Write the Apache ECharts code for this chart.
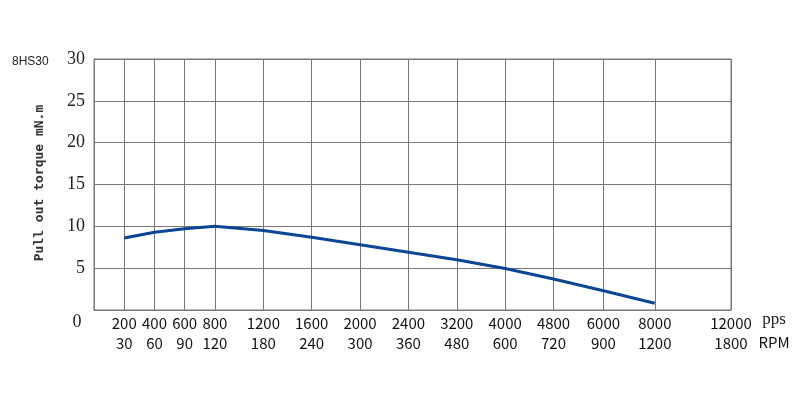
<!DOCTYPE html>
<html>
<head>
<meta charset="utf-8">
<script src="https://cdn.jsdelivr.net/npm/echarts@6/dist/echarts.min.js"></script>
<style>
html, body { margin: 0; padding: 0; background: #fff; }
#main { width: 800px; height: 400px; }
</style>
</head>
<body>
<div id="main"></div>
<script>
// tick labels (pps on top row, RPM below)
var ppsTicks = ['200', '400', '600', '800', '1200', '1600', '2000', '2400', '3200', '4000', '4800', '6000', '8000', '12000'];
var rpmTicks = ['30', '60', '90', '120', '180', '240', '300', '360', '480', '600', '720', '900', '1200', '1800'];
// where each tick sits on the (non linear) speed scale
var tickSlot = [1, 2, 3, 4, 5.6, 7.2, 8.8, 10.4, 12, 13.6, 15.2, 16.85, 18.55, 21.07];
// pull out torque, mN.m, read at ticks 200 .. 8000
var torque = [8.6, 9.3, 9.7, 10.0, 9.5, 8.7, 7.8, 6.9, 6.0, 4.95, 3.7, 2.3, 0.8];

var chart = echarts.init(document.getElementById('main'));

var pts = [];
for (var i = 0; i < torque.length; i++) {
    pts.push([tickSlot[i], torque[i]]);
}

var option = {
    animation: false,
    backgroundColor: '#fff',
    grid: {
        left: 94, right: 69, top: 59, bottom: 90,
        show: true, borderColor: '#777', borderWidth: 1
    },
    xAxis: {
        type: 'value',
        min: 0,
        max: tickSlot[tickSlot.length - 1],
        axisLine: { show: true, lineStyle: { color: '#777', width: 1 } },
        axisTick: { show: false, customValues: tickSlot },
        splitLine: { show: true, lineStyle: { color: '#777', width: 1 } },
        axisLabel: {
            customValues: tickSlot,
            margin: 3,
            hideOverlap: false,
            formatter: function (v) {
                var k = tickSlot.indexOf(v);
                if (k < 0) return '';
                return ppsTicks[k] + '\n' + rpmTicks[k];
            },
            fontFamily: 'Noto Sans CJK SC',
            fontSize: 15,
            lineHeight: 20,
            color: '#111'
        }
    },
    yAxis: {
        type: 'value',
        min: 0,
        max: 30,
        interval: 5,
        axisLine: { show: true, lineStyle: { color: '#777', width: 1 } },
        axisTick: { show: false },
        splitLine: { show: true, lineStyle: { color: '#777', width: 1 } },
        axisLabel: {
            margin: 9,
            fontFamily: 'Liberation Serif',
            fontSize: 18,
            color: '#222',
            formatter: function (v) { return v == 0 ? '' : v; }
        }
    },
    graphic: [
        { type: 'text', left: 12, top: 56, style: { text: '8HS30', font: '12px "Liberation Sans"', fill: '#222' } },
        { type: 'text', x: 77, y: 322, style: { text: '0', font: '18px "Liberation Serif"', fill: '#222', align: 'center', verticalAlign: 'middle' } },
        { type: 'text', x: 774, y: 320, style: { text: 'pps', font: '17px "Liberation Serif"', fill: '#222', align: 'center', verticalAlign: 'middle' } },
        { type: 'text', x: 774, y: 342, style: { text: 'RPM', font: '15px "Noto Sans CJK SC"', fill: '#111', align: 'center', verticalAlign: 'middle' } },
        {
            type: 'text', x: 40, y: 183, rotation: Math.PI / 2,
            style: { text: 'Pull out torque mN.m', font: 'bold 13px "DejaVu Sans Mono"', fill: '#333', align: 'center', verticalAlign: 'middle' }
        }
    ],
    series: [{
        type: 'line',
        data: pts,
        symbol: 'none',
        lineStyle: { color: '#0a4596', width: 3 }
    }]
};

chart.setOption(option);
</script>
</body>
</html>
